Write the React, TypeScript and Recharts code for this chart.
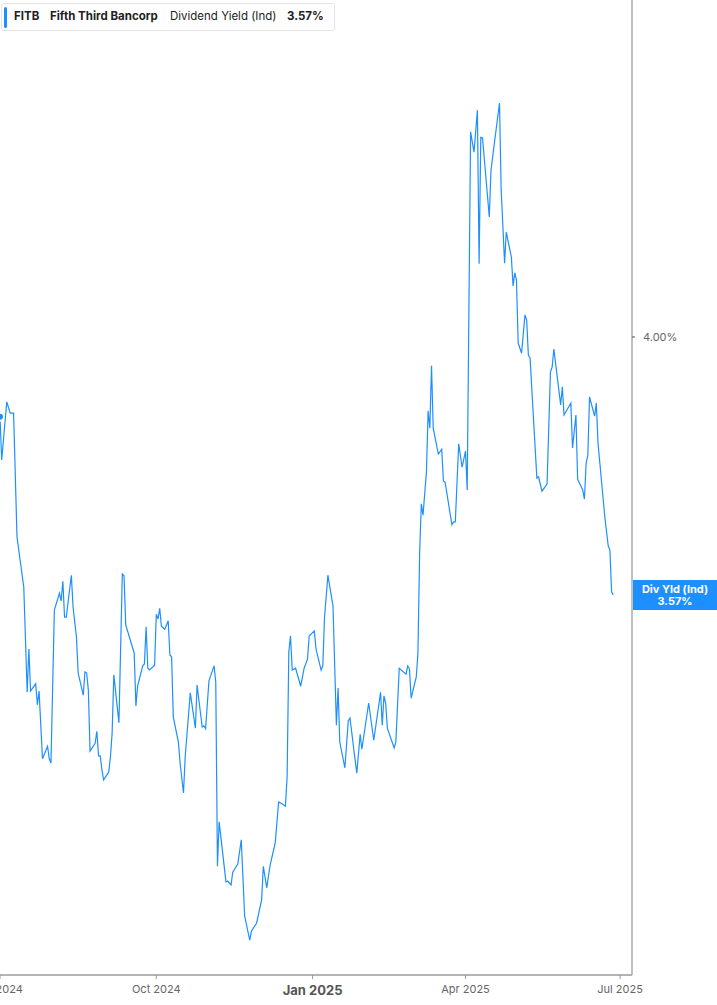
import React from "react";
import { LineChart, Line, XAxis, YAxis, ReferenceLine } from "recharts";

const DATES = [
  "2024-07-01", "2024-07-02", "2024-07-05", "2024-07-07", "2024-07-09", "2024-07-11", "2024-07-15", "2024-07-17",
  "2024-07-18", "2024-07-19", "2024-07-22", "2024-07-23", "2024-07-24", "2024-07-26", "2024-07-29", "2024-07-30",
  "2024-07-31", "2024-08-02", "2024-08-05", "2024-08-06", "2024-08-07", "2024-08-08", "2024-08-09", "2024-08-12",
  "2024-08-13", "2024-08-15", "2024-08-16", "2024-08-19", "2024-08-20", "2024-08-21", "2024-08-22", "2024-08-23",
  "2024-08-26", "2024-08-27", "2024-08-28", "2024-08-29", "2024-08-30", "2024-08-31", "2024-09-03", "2024-09-04",
  "2024-09-05", "2024-09-06", "2024-09-09", "2024-09-11", "2024-09-12", "2024-09-13", "2024-09-18", "2024-09-19",
  "2024-09-20", "2024-09-23", "2024-09-24", "2024-09-25", "2024-09-26", "2024-09-27", "2024-09-30", "2024-10-01",
  "2024-10-02", "2024-10-03", "2024-10-04", "2024-10-06", "2024-10-08", "2024-10-09", "2024-10-10", "2024-10-11",
  "2024-10-14", "2024-10-15", "2024-10-17", "2024-10-18", "2024-10-21", "2024-10-24", "2024-10-25", "2024-10-28",
  "2024-10-29", "2024-10-30", "2024-11-01", "2024-11-04", "2024-11-05", "2024-11-06", "2024-11-07", "2024-11-11",
  "2024-11-12", "2024-11-14", "2024-11-15", "2024-11-18", "2024-11-20", "2024-11-22", "2024-11-25", "2024-11-26",
  "2024-11-29", "2024-12-02", "2024-12-03", "2024-12-05", "2024-12-07", "2024-12-10", "2024-12-12", "2024-12-14",
  "2024-12-16", "2024-12-17", "2024-12-18", "2024-12-19", "2024-12-20", "2024-12-22", "2024-12-25", "2024-12-27",
  "2024-12-29", "2024-12-30", "2025-01-02", "2025-01-03", "2025-01-06", "2025-01-07", "2025-01-08", "2025-01-10",
  "2025-01-13", "2025-01-15", "2025-01-16", "2025-01-17", "2025-01-20", "2025-01-22", "2025-01-23", "2025-01-27",
  "2025-01-29", "2025-01-30", "2025-02-03", "2025-02-06", "2025-02-10", "2025-02-11", "2025-02-12", "2025-02-13",
  "2025-02-14", "2025-02-18", "2025-02-19", "2025-02-21", "2025-02-25", "2025-02-26", "2025-02-27", "2025-02-28",
  "2025-03-03", "2025-03-04", "2025-03-05", "2025-03-06", "2025-03-07", "2025-03-09", "2025-03-10", "2025-03-11",
  "2025-03-12", "2025-03-13", "2025-03-16", "2025-03-18", "2025-03-19", "2025-03-20", "2025-03-24", "2025-03-25",
  "2025-03-26", "2025-03-28", "2025-03-30", "2025-04-01", "2025-04-02", "2025-04-04", "2025-04-06", "2025-04-08",
  "2025-04-09", "2025-04-10", "2025-04-11", "2025-04-15", "2025-04-16", "2025-04-18", "2025-04-21", "2025-04-22",
  "2025-04-24", "2025-04-25", "2025-04-28", "2025-04-29", "2025-04-30", "2025-05-01", "2025-05-02", "2025-05-04",
  "2025-05-06", "2025-05-07", "2025-05-08", "2025-05-09", "2025-05-13", "2025-05-14", "2025-05-16", "2025-05-19",
  "2025-05-21", "2025-05-22", "2025-05-23", "2025-05-27", "2025-05-28", "2025-05-29", "2025-06-02", "2025-06-03",
  "2025-06-05", "2025-06-06", "2025-06-09", "2025-06-10", "2025-06-11", "2025-06-12", "2025-06-13", "2025-06-16",
  "2025-06-17", "2025-06-18", "2025-06-22", "2025-06-24", "2025-06-25", "2025-06-26", "2025-06-27",
];

// dividend yield (%), one per date above
const YIELDS = [
  3.867, 3.795, 3.892, 3.873, 3.873, 3.667, 3.583, 3.408,
  3.48, 3.41, 3.422, 3.387, 3.41, 3.297, 3.318, 3.297,
  3.29, 3.545, 3.573, 3.56, 3.593, 3.533, 3.533, 3.603,
  3.55, 3.5, 3.44, 3.403, 3.442, 3.44, 3.412, 3.31,
  3.323, 3.343, 3.302, 3.302, 3.278, 3.262, 3.275, 3.3,
  3.34, 3.437, 3.357, 3.605, 3.602, 3.52, 3.473, 3.385,
  3.418, 3.452, 3.455, 3.517, 3.448, 3.445, 3.453, 3.538,
  3.53, 3.548, 3.518, 3.513, 3.527, 3.47, 3.467, 3.367,
  3.325, 3.29, 3.24, 3.3, 3.407, 3.348, 3.42, 3.35,
  3.352, 3.347, 3.427, 3.452, 3.425, 3.118, 3.192, 3.092,
  3.093, 3.087, 3.108, 3.122, 3.162, 3.035, 2.995, 3.01,
  3.023, 3.062, 3.118, 3.082, 3.12, 3.157, 3.225, 3.222,
  3.218, 3.267, 3.475, 3.502, 3.445, 3.448, 3.418, 3.448,
  3.463, 3.502, 3.51, 3.48, 3.445, 3.452, 3.532, 3.603,
  3.552, 3.353, 3.415, 3.325, 3.282, 3.36, 3.365, 3.273,
  3.338, 3.313, 3.39, 3.328, 3.408, 3.353, 3.402, 3.39,
  3.348, 3.315, 3.325, 3.448, 3.438, 3.452, 3.447, 3.398,
  3.433, 3.473, 3.64, 3.722, 3.703, 3.775, 3.877, 3.848,
  3.952, 3.848, 3.805, 3.813, 3.76, 3.758, 3.687, 3.692,
  3.692, 3.822, 3.783, 3.81, 3.745, 4.342, 4.308, 4.378,
  4.122, 4.333, 4.332, 4.2, 4.278, 4.323, 4.39, 4.245,
  4.123, 4.175, 4.133, 4.085, 4.107, 4.095, 3.99, 3.973,
  4.037, 4.028, 3.97, 3.965, 3.765, 3.767, 3.743, 3.755,
  3.942, 3.95, 3.98, 3.887, 3.917, 3.87, 3.89, 3.815,
  3.87, 3.763, 3.745, 3.73, 3.79, 3.803, 3.9, 3.868,
  3.89, 3.823, 3.7, 3.652, 3.645, 3.575, 3.57,
];

const X_START = "2024-07-01";
const X_END = "2025-07-08";
const X_TICKS = ["2024-07-01", "2024-10-01", "2025-01-01", "2025-04-01", "2025-07-01"];
const X_TICK_LABELS = ["Jul 2024", "Oct 2024", "Jan 2025", "Apr 2025", "Jul 2025"];
const BOLD_TICK = "Jan 2025";
const Y_DOMAIN = [2.9367, 4.5617];
const Y_TICKS = [4.0];

const BLUE = "#1e8fff";
const FONT = "Inter, 'Noto Sans', sans-serif";

const data = DATES.map((d, i) => ({ t: Date.parse(d), v: YIELDS[i] }));
const tickTimes = X_TICKS.map((d) => Date.parse(d));
const lastValue = YIELDS[YIELDS.length - 1];

function XTick({ x, y, payload }: any) {
  const idx = tickTimes.indexOf(payload.value);
  const label = X_TICK_LABELS[idx] ?? "";
  const bold = label === BOLD_TICK;
  return (
    <text
      x={x}
      y={y + (bold ? 14 : 12)}
      textAnchor="middle"
      fontFamily={FONT}
      fontSize={bold ? 13 : 11}
      fontWeight={bold ? 700 : 400}
      fill={bold ? "#555" : "#666"}
    >
      {label}
    </text>
  );
}

function ValueTag({ viewBox }: any) {
  const x = viewBox.x + viewBox.width + 1;
  const y = viewBox.y;
  return (
    <g>
      <rect x={x} y={y - 15} width={85} height={30} fill={BLUE} />
      <text x={x + 42} y={y - 2} textAnchor="middle" fontFamily={FONT} fontSize={11} fontWeight={700} fill="#fff">
        Div Yld (Ind)
      </text>
      <text x={x + 42} y={y + 10} textAnchor="middle" fontFamily={FONT} fontSize={11} fontWeight={700} fill="#fff">
        {lastValue.toFixed(2)}%
      </text>
    </g>
  );
}

export default function App() {
  return (
    <div style={{ position: "absolute", left: 0, top: 0, width: 717, height: 1005, background: "#fff" }}>
      <LineChart width={717} height={1005} data={data} margin={{ top: 0, right: 0, bottom: 0, left: 0 }}>
        <XAxis
          dataKey="t"
          type="number"
          scale="time"
          domain={[Date.parse(X_START), Date.parse(X_END)]}
          ticks={tickTimes}
          interval={0}
          height={30}
          tick={<XTick />}
          tickSize={4}
          axisLine={{ stroke: "#b3b3b3", strokeWidth: 2 }}
          tickLine={{ stroke: "#999" }}
          allowDataOverflow
        />
        <YAxis
          orientation="right"
          type="number"
          domain={Y_DOMAIN}
          ticks={Y_TICKS}
          width={85}
          tickSize={3}
          tickMargin={8}
          tickFormatter={(v: number) => `${v.toFixed(2)}%`}
          tick={{ fill: "#666", fontSize: 11, fontFamily: FONT, textAnchor: "start" }}
          axisLine={{ stroke: "#aaa", strokeWidth: 1.5 }}
          tickLine={{ stroke: "#555" }}
          allowDataOverflow
        />
        <ReferenceLine y={lastValue} stroke="none" label={<ValueTag />} />
        <Line
          dataKey="v"
          type="linear"
          stroke={BLUE}
          strokeWidth={1.2}
          dot={false}
          isAnimationActive={false}
        />
      </LineChart>

      <div
        style={{
          position: "absolute",
          left: 1,
          top: 3,
          width: 332,
          height: 26,
          border: "1px solid #e4e4e4",
          borderRadius: 3,
          background: "#fff",
          fontFamily: FONT,
          fontSize: 11.5,
          color: "#222",
        }}
      >
        <div style={{ position: "absolute", left: 2, top: 3, width: 3, height: 21, background: BLUE, borderRadius: 2 }} />
        <span style={{ position: "absolute", left: 12, top: 5, fontWeight: 700 }}>FITB</span>
        <span style={{ position: "absolute", left: 48, top: 5, fontWeight: 700 }}>Fifth Third Bancorp</span>
        <span style={{ position: "absolute", left: 168, top: 5 }}>Dividend Yield (Ind)</span>
        <span style={{ position: "absolute", left: 285, top: 5, fontWeight: 700 }}>3.57%</span>
      </div>
    </div>
  );
}
